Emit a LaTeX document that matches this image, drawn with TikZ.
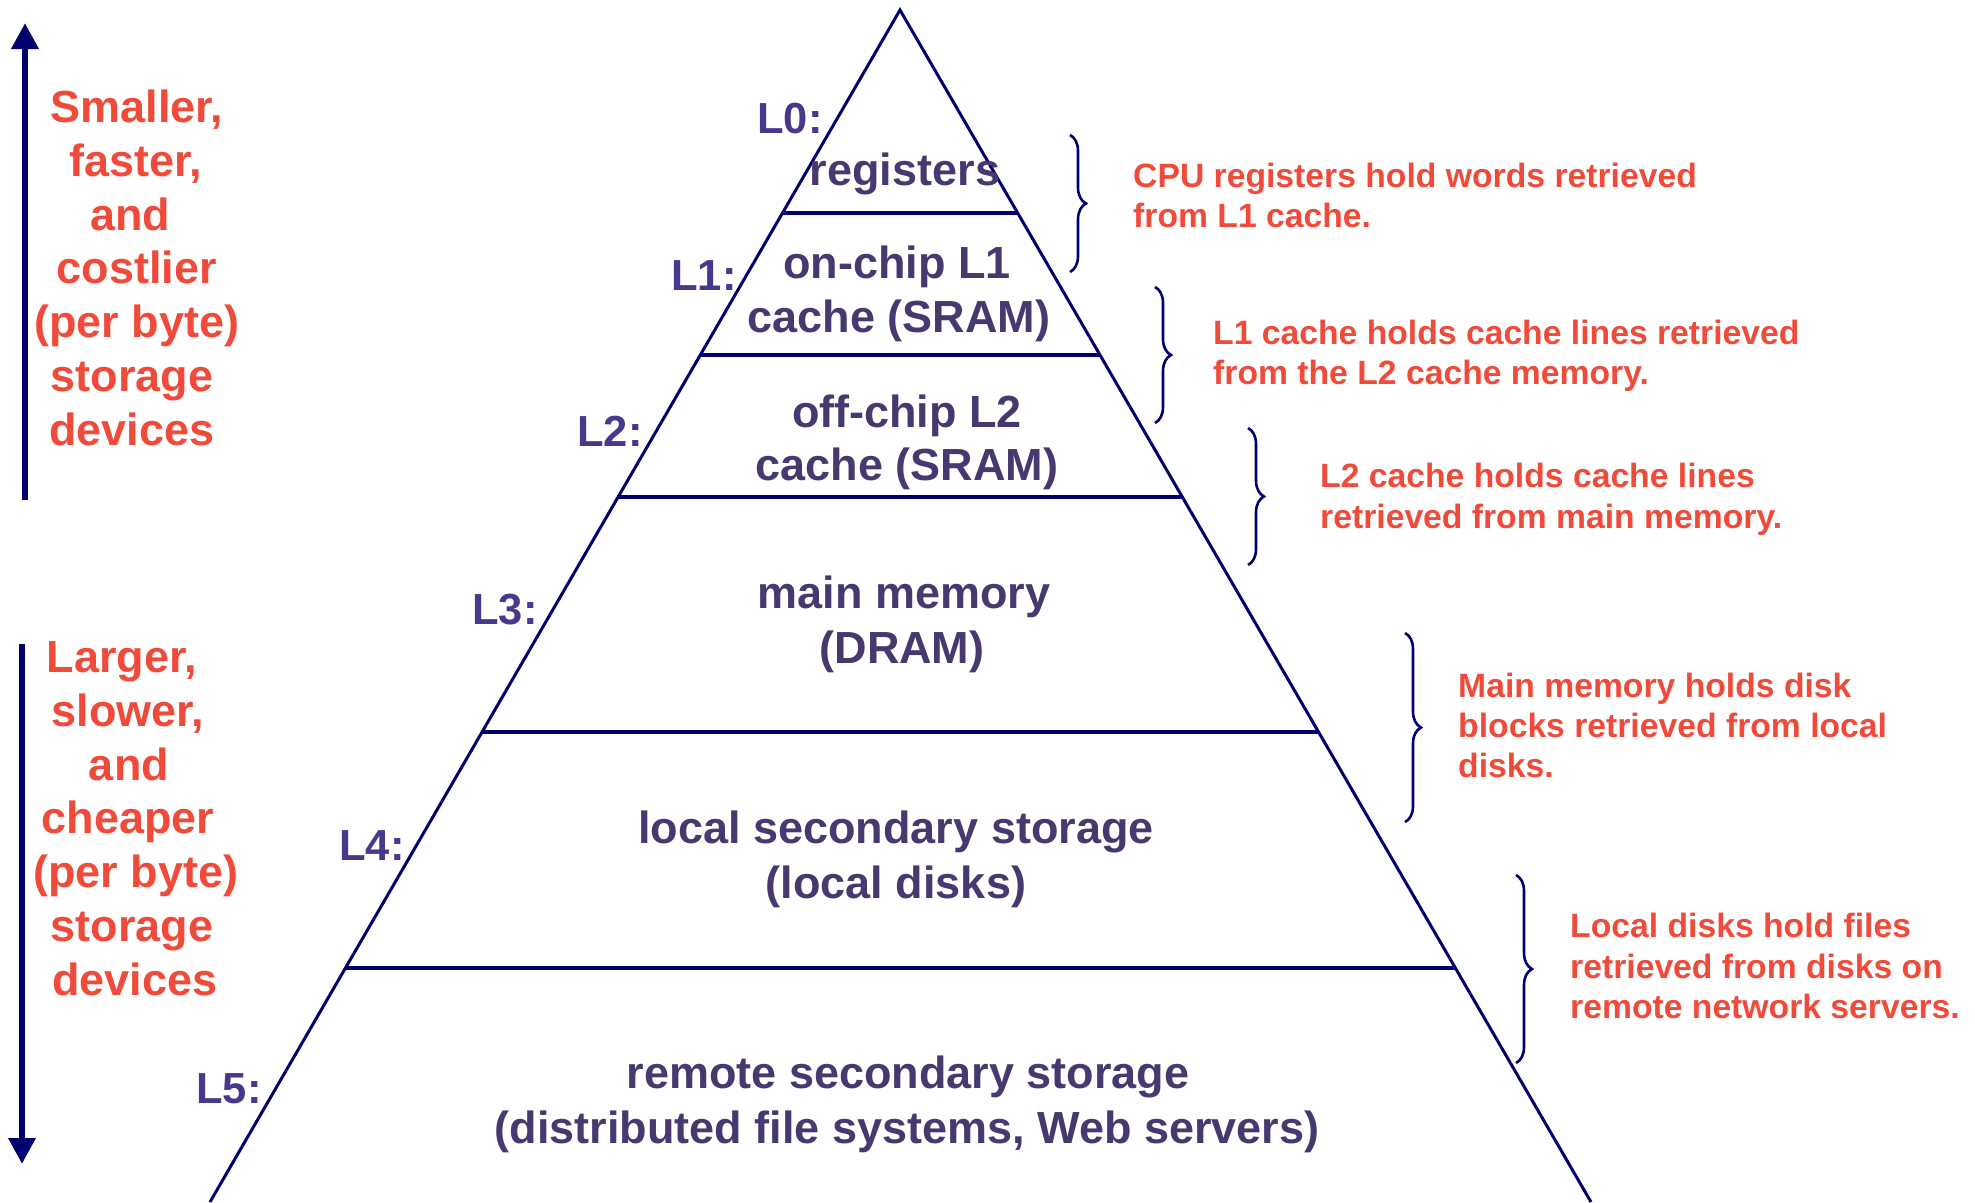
\documentclass[tikz,border=0pt]{standalone}
\usepackage{fontspec}
\setmainfont{Liberation Sans}
\usetikzlibrary{calc,arrows.meta,decorations.pathreplacing}
\definecolor{navy}{RGB}{0,0,110}
\definecolor{redtxt}{RGB}{240,75,58}
\definecolor{purp}{RGB}{72,56,112}
\definecolor{lpurp}{RGB}{70,56,140}
\begin{document}
\begin{tikzpicture}[x=1pt,y=-1pt,
  big/.style={font=\fontsize{45}{54}\selectfont\bfseries, inner sep=0pt, anchor=base},
  sidetxt/.style={big, text=redtxt},
  tiertxt/.style={big, text=purp},
  lvl/.style={font=\fontsize{43.5}{52}\selectfont\bfseries, text=lpurp, inner sep=0pt, anchor=base},
  note/.style={font=\fontsize{33.7}{40.5}\selectfont\bfseries, text=redtxt, inner sep=0pt, anchor=base west},
  pyredge/.style={draw=navy, line width=3pt},
  sepline/.style={draw=navy, line width=3.5pt},
  brc/.style={draw=navy, line width=2.6pt, decorate, decoration={brace, amplitude=16pt}},
  bigarrow/.style={draw=navy, line width=6.5pt, -{Triangle[length=26pt,width=26pt]}}
]
\useasboundingbox (0,0) rectangle (1975,1202);
\fill[white] (0,0) rectangle (1975,1202);

% pyramid
\coordinate (apex) at (900,10);
\coordinate (bl) at (210,1202);
\coordinate (br) at (1591,1202);
\draw[pyredge] (bl) -- (apex) -- (br);
\foreach \yy in {213,355,497,732,968} {
  \draw[sepline] ($(apex)!{(\yy-10)/1192}!(bl)$) -- ($(apex)!{(\yy-10)/1192}!(br)$);
}

% left arrows
\coordinate (upS) at (25,500);
\coordinate (upT) at (25,23);
\coordinate (dnS) at (22,644);
\coordinate (dnT) at (22,1164);
\draw[bigarrow] (upS) -- (upT);
\draw[bigarrow] (dnS) -- (dnT);

% left texts (top)
\node[sidetxt] (sa) at (137,122) {Smaller,};
\node[sidetxt] (sb) at (136,176) {faster,};
\node[sidetxt] (sc) at (130,230) {and};
\node[sidetxt] (sd) at (137,283) {costlier};
\node[sidetxt] (se) at (137,337) {(per byte)};
\node[sidetxt] (sf) at (132,391) {storage};
\node[sidetxt] (sg) at (132,445) {devices};
% left texts (bottom)
\node[sidetxt] (la) at (122,672) {Larger,};
\node[sidetxt] (lb) at (128,726) {slower,};
\node[sidetxt] (lc) at (129,780) {and};
\node[sidetxt] (ld) at (128,833) {cheaper};
\node[sidetxt] (le) at (136,887) {(per byte)};
\node[sidetxt] (lf) at (132,941) {storage};
\node[sidetxt] (lg) at (135,995) {devices};

% level labels
\node[lvl] (L0) at (790,133) {L0:};
\node[lvl] (L1) at (704,290) {L1:};
\node[lvl] (L2) at (610,446) {L2:};
\node[lvl] (L3) at (505,624) {L3:};
\node[lvl] (L4) at (372,860) {L4:};
\node[lvl] (L5) at (229,1103) {L5:};

% tier texts
\node[tiertxt] (t0) at (905,185) {registers};
\node[tiertxt] (t1a) at (897,278) {on-chip L1};
\node[tiertxt] (t1b) at (899,332) {cache (SRAM)};
\node[tiertxt] (t2a) at (907,427) {off-chip L2};
\node[tiertxt] (t2b) at (907,480) {cache (SRAM)};
\node[tiertxt] (t3a) at (904,608) {main memory};
\node[tiertxt] (t3b) at (902,663) {(DRAM)};
\node[tiertxt] (t4a) at (896,843) {local secondary storage};
\node[tiertxt] (t4b) at (896,898) {(local disks)};
\node[tiertxt] (t5a) at (908,1088) {remote secondary storage};
\node[tiertxt] (t5b) at (907,1143) {(distributed file systems, Web servers)};

% braces
\draw[brc] (1070,135) -- (1070,272);
\draw[brc] (1155,287) -- (1155,423);
\draw[brc] (1248,428) -- (1248,565);
\draw[brc] (1405,633) -- (1405,822);
\draw[brc] (1516,875) -- (1516,1063);

% notes
\node[note] (n1a) at (1133,187) {CPU registers hold words retrieved};
\node[note] (n1b) at (1133,227) {from L1 cache.};
\node[note] (n2a) at (1213,344) {L1 cache holds cache lines retrieved};
\node[note] (n2b) at (1213,384) {from the L2 cache memory.};
\node[note] (n3a) at (1320,487) {L2 cache holds cache lines};
\node[note] (n3b) at (1320,528) {retrieved from main memory.};
\node[note] (n4a) at (1458,697) {Main memory holds disk};
\node[note] (n4b) at (1458,737) {blocks retrieved from local};
\node[note] (n4c) at (1458,777) {disks.};
\node[note] (n5a) at (1570,937) {Local disks hold files};
\node[note] (n5b) at (1570,978) {retrieved from disks on};
\node[note] (n5c) at (1570,1018) {remote network servers.};
\end{tikzpicture}
\end{document}
